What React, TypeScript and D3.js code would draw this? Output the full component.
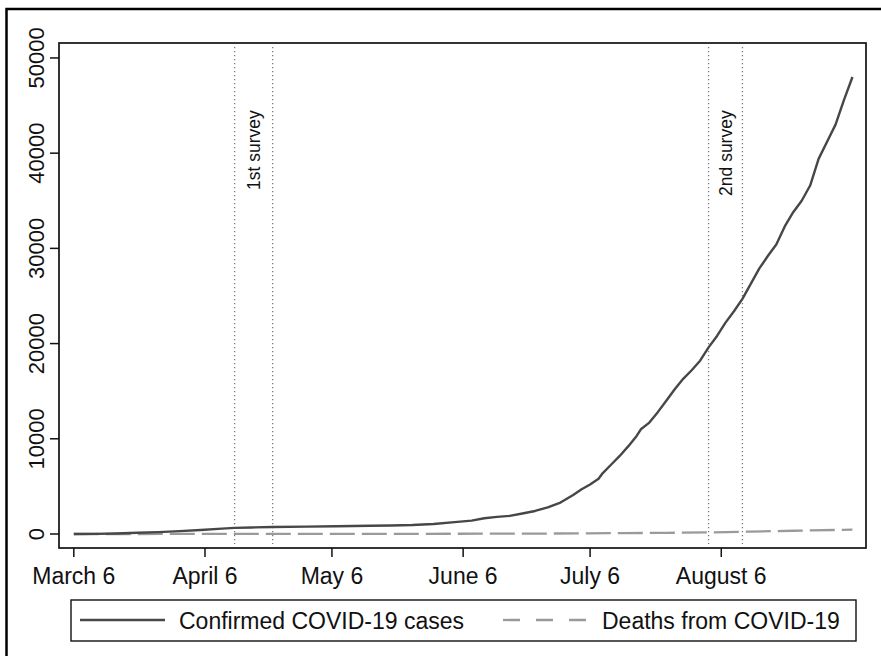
import * as d3 from 'd3';

// days since March 6, 2020
const CASE_DAYS = [0, 5, 10, 15, 20, 25, 30, 35, 38, 42, 47, 55, 62, 70, 75, 80, 85, 90, 94, 97, 100, 103, 106, 109, 112, 115, 118, 120, 122, 124, 125, 127, 129, 131, 133, 134, 136, 138, 140, 142, 144, 146, 148, 150, 152, 154, 156, 158, 160, 162, 164, 166, 168, 170, 172, 174, 176, 178, 180, 182, 184];
const CASES = [0, 10, 60, 130, 200, 300, 420, 560, 640, 690, 730, 780, 820, 860, 890, 940, 1050, 1250, 1400, 1650, 1800, 1900, 2150, 2420, 2800, 3300, 4100, 4700, 5200, 5800, 6400, 7300, 8200, 9200, 10300, 11000, 11700, 12800, 14000, 15200, 16300, 17200, 18200, 19600, 20800, 22200, 23400, 24700, 26300, 27900, 29200, 30400, 32300, 33800, 35000, 36600, 39400, 41200, 43000, 45600, 48000];

const DEATH_DAYS = [0, 30, 60, 90, 110, 120, 130, 140, 150, 160, 170, 180, 184];
const DEATHS = [0, 5, 15, 25, 45, 70, 90, 120, 170, 250, 340, 420, 460];

const TICK_DAYS = [0, 31, 61, 92, 122, 153];
const TICK_LABELS = ['March 6', 'April 6', 'May 6', 'June 6', 'July 6', 'August 6'];
const Y_TICKS = [0, 10000, 20000, 30000, 40000, 50000];

const SURVEYS = [
  { label: '1st survey', start: 38, end: 47 },
  { label: '2nd survey', start: 150, end: 158 },
];

const LEGEND = ['Confirmed COVID-19 cases', 'Deaths from COVID-19'];

const START = Date.UTC(2020, 2, 6);
const toDate = (d: number) => new Date(START + d * 864e5);

const FONT = '"Liberation Sans", Arial, Helvetica, sans-serif';

export default function App() {
  const W = 881;
  const H = 656;
  const plot = { left: 59, right: 866, top: 43, bottom: 548 };

  const x = d3.scaleUtc()
    .domain([toDate(-3.5), toDate(187.2)])
    .range([plot.left, plot.right]);
  const y = d3.scaleLinear()
    .domain([-1470, 51570])
    .range([plot.bottom, plot.top]);

  const caseLine = d3.line<number>()
    .x((_, i) => x(toDate(CASE_DAYS[i])))
    .y(d => y(d));
  const deathLine = d3.line<number>()
    .x((_, i) => x(toDate(DEATH_DAYS[i])))
    .y(d => y(d));

  return (
    <div style={{ position: 'absolute', left: 0, top: 0 }}>
      <svg width={W} height={H} style={{ display: 'block', background: '#fff' }} fontFamily={FONT}>
        {/* outer frame */}
        <rect x={6.5} y={9} width={W + 20} height={H + 20} fill="none" stroke="#000" strokeWidth={2.5} />

        {/* survey windows */}
        {SURVEYS.map(s => (
          <g key={s.label}>
            {[s.start, s.end].map(d => (
              <line
                key={d}
                x1={x(toDate(d))} x2={x(toDate(d))}
                y1={plot.top + 4} y2={plot.bottom - 4}
                stroke="#777" strokeWidth={1.3} strokeDasharray="1.3 2.7"
              />
            ))}
            <text
              transform={`translate(${x(toDate((s.start + s.end) / 2)) + 6},${y(44500)}) rotate(-90)`}
              textAnchor="end" fontSize={17.5} fill="#111"
            >
              {s.label}
            </text>
          </g>
        ))}

        {/* deaths */}
        <path d={deathLine(DEATHS) ?? ''} fill="none" stroke="#9a9a9a" strokeWidth={2.3} strokeDasharray="25 7" />
        {/* cases */}
        <path d={caseLine(CASES) ?? ''} fill="none" stroke="#474747" strokeWidth={2.4} strokeLinejoin="round" />

        {/* plot frame */}
        <rect
          x={plot.left} y={plot.top}
          width={plot.right - plot.left} height={plot.bottom - plot.top}
          fill="none" stroke="#111" strokeWidth={1.7}
        />

        {/* y axis */}
        {Y_TICKS.map(t => (
          <g key={t}>
            <line x1={plot.left - 9} x2={plot.left} y1={y(t)} y2={y(t)} stroke="#111" strokeWidth={1.5} />
            <text
              transform={`translate(44,${y(t)}) rotate(-90)`}
              textAnchor="middle" fontSize={22} fill="#111"
            >
              {t}
            </text>
          </g>
        ))}

        {/* x axis */}
        {TICK_DAYS.map((d, i) => (
          <g key={d}>
            <line x1={x(toDate(d))} x2={x(toDate(d))} y1={plot.bottom} y2={plot.bottom + 9} stroke="#111" strokeWidth={1.5} />
            <text x={x(toDate(d))} y={584} textAnchor="middle" fontSize={23} fill="#111">
              {TICK_LABELS[i]}
            </text>
          </g>
        ))}

        {/* legend */}
        <rect x={71} y={600} width={785} height={41} fill="#fff" stroke="#111" strokeWidth={1.4} />
        <line x1={80} x2={165} y1={620} y2={620} stroke="#474747" strokeWidth={2.4} />
        <text x={179} y={629} fontSize={23} fill="#111">{LEGEND[0]}</text>
        <line x1={503} x2={587} y1={620} y2={620} stroke="#9a9a9a" strokeWidth={2.3} strokeDasharray="17 16" />
        <text x={602} y={629} fontSize={23} fill="#111">{LEGEND[1]}</text>
      </svg>
    </div>
  );
}
